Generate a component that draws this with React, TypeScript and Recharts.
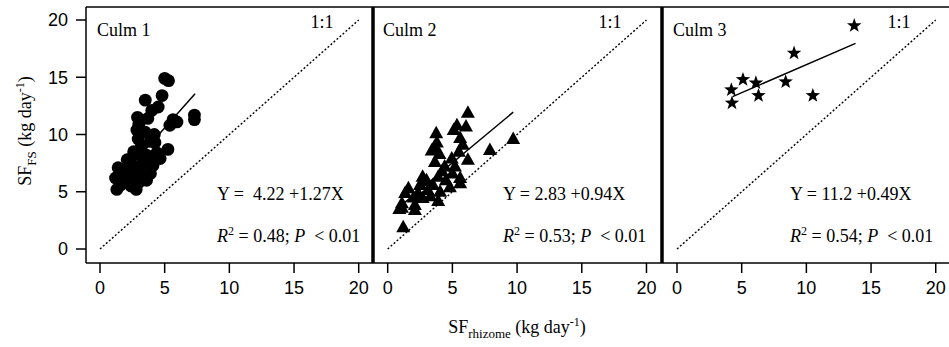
import React from 'react';
import { ScatterChart, Scatter, XAxis, YAxis, ReferenceLine } from 'recharts';

type P = { x: number; y: number };

const culm1Points: P[] = [
  { x: 5.0, y: 14.9 }, { x: 5.3, y: 14.7 }, { x: 4.8, y: 13.4 }, { x: 3.5, y: 13.0 },
  { x: 4.5, y: 12.4 }, { x: 4.0, y: 12.1 }, { x: 3.7, y: 11.4 }, { x: 2.9, y: 11.5 },
  { x: 7.3, y: 11.7 }, { x: 7.3, y: 11.3 }, { x: 5.65, y: 11.3 }, { x: 5.95, y: 11.1 },
  { x: 5.4, y: 10.8 }, { x: 2.85, y: 10.4 }, { x: 3.5, y: 10.2 }, { x: 2.95, y: 9.6 },
  { x: 4.25, y: 9.3 }, { x: 5.25, y: 8.7 }, { x: 4.65, y: 7.9 }, { x: 3.85, y: 8.0 },
  { x: 3.1, y: 8.2 }, { x: 2.3, y: 7.8 }, { x: 1.4, y: 7.1 }, { x: 2.1, y: 7.8 },
  { x: 3.6, y: 8.2 }, { x: 3.9, y: 6.6 }, { x: 2.8, y: 5.2 }, { x: 1.3, y: 5.2 },
  { x: 2.05, y: 5.8 }, { x: 3.1, y: 6.6 }, { x: 2.3, y: 6.6 }, { x: 1.5, y: 6.5 },
  { x: 1.8, y: 6.9 }, { x: 2.5, y: 7.3 }, { x: 2.7, y: 6.2 }, { x: 3.3, y: 7.4 },
  { x: 1.9, y: 6.0 }, { x: 2.4, y: 5.5 }, { x: 3.0, y: 5.8 }, { x: 1.6, y: 5.6 },
  { x: 2.2, y: 7.1 }, { x: 2.9, y: 7.0 }, { x: 3.5, y: 7.6 }, { x: 4.1, y: 7.3 },
  { x: 2.6, y: 8.5 }, { x: 3.2, y: 9.0 }, { x: 1.2, y: 6.2 }, { x: 2.0, y: 6.4 },
  { x: 3.6, y: 6.0 }, { x: 4.4, y: 8.4 }, { x: 3.0, y: 10.9 }, { x: 4.2, y: 10.0 },
  { x: 3.9, y: 9.4 },
];

const culm2Points: P[] = [
  { x: 6.2, y: 11.9 }, { x: 5.35, y: 10.8 }, { x: 6.05, y: 10.7 }, { x: 3.75, y: 10.1 },
  { x: 5.1, y: 10.4 }, { x: 5.6, y: 9.7 }, { x: 3.8, y: 9.3 }, { x: 5.8, y: 9.1 },
  { x: 3.4, y: 8.6 }, { x: 9.7, y: 9.6 }, { x: 7.9, y: 8.65 }, { x: 6.2, y: 7.8 },
  { x: 4.95, y: 7.9 }, { x: 3.65, y: 7.6 }, { x: 4.4, y: 7.2 }, { x: 5.2, y: 7.2 },
  { x: 2.7, y: 6.3 }, { x: 3.9, y: 6.3 }, { x: 5.6, y: 6.2 }, { x: 1.6, y: 5.3 },
  { x: 2.35, y: 4.9 }, { x: 3.1, y: 5.15 }, { x: 4.05, y: 5.0 }, { x: 4.8, y: 5.4 },
  { x: 5.6, y: 5.75 }, { x: 1.1, y: 4.0 }, { x: 2.1, y: 3.85 }, { x: 1.2, y: 1.9 },
  { x: 1.35, y: 4.9 }, { x: 1.1, y: 3.6 }, { x: 2.1, y: 3.4 }, { x: 2.7, y: 4.45 },
  { x: 3.5, y: 5.6 }, { x: 4.2, y: 6.8 }, { x: 3.0, y: 6.0 }, { x: 2.0, y: 4.5 },
  { x: 4.5, y: 6.0 }, { x: 5.0, y: 6.6 }, { x: 3.3, y: 4.6 }, { x: 2.5, y: 5.6 },
  { x: 4.0, y: 8.3 }, { x: 3.6, y: 8.9 }, { x: 5.5, y: 8.5 }, { x: 0.9, y: 3.5 },
  { x: 3.9, y: 4.2 },
];

const culm3Points: P[] = [
  { x: 4.2, y: 13.9 }, { x: 5.1, y: 14.8 }, { x: 6.1, y: 14.5 }, { x: 4.25, y: 12.75 },
  { x: 6.3, y: 13.4 }, { x: 8.4, y: 14.6 }, { x: 9.05, y: 17.1 }, { x: 10.5, y: 13.4 },
  { x: 13.7, y: 19.5 },
];

// regression: Y = a + b X, drawn between xFrom and xTo
const fitIntercepts = [4.22, 2.83, 11.2];
const fitSlopes = [1.27, 0.94, 0.49];
const fitFrom = [1.3, 1.0, 4.3];
const fitTo = [7.35, 9.7, 13.8];

const panelTitles = ['Culm 1', 'Culm 2', 'Culm 3'];
const equationTexts = ['Y =  4.22 +1.27X', 'Y = 2.83 +0.94X', 'Y = 11.2 +0.49X'];
const r2Values = ['0.48', '0.53', '0.54'];
const pTexts = ['< 0.01', '< 0.01', '< 0.01'];
const axisTicks = [0, 5, 10, 15, 20];

const SANS = '"Liberation Sans", Arial, sans-serif';
const SERIF = '"Liberation Serif", "Times New Roman", serif';

const Circle = (p: any) => <circle cx={p.cx} cy={p.cy} r={6.4} fill="#000" />;
const Tri = (p: any) => {
  const { cx, cy } = p;
  return <path d={`M${cx},${cy - 7.5} L${cx + 7},${cy + 5} L${cx - 7},${cy + 5} Z`} fill="#000" />;
};
const Star = (p: any) => {
  const { cx, cy } = p;
  const R = 7.6, r = 3.1;
  let d = '';
  for (let i = 0; i < 10; i++) {
    const rad = i % 2 === 0 ? R : r;
    const a = -Math.PI / 2 + (i * Math.PI) / 5;
    d += (i === 0 ? 'M' : 'L') + (cx + rad * Math.cos(a)).toFixed(2) + ',' + (cy + rad * Math.sin(a)).toFixed(2);
  }
  return <path d={d + 'Z'} fill="#000" />;
};

const Y_DOMAIN: [number, number] = [-1.223, 21.135];

type PanelProps = {
  left: number;
  width: number;
  ml: number;
  mr: number;
  xDomain: [number, number];
  data: P[];
  shape: any;
  idx: number;
  showY: boolean;
  leftThick: boolean;
  rightThick: boolean;
};

function Panel({ left, width, ml, mr, xDomain, data, shape, idx, showY, leftThick, rightThick }: PanelProps) {
  const a = fitIntercepts[idx];
  const b = fitSlopes[idx];
  const seg = [
    { x: fitFrom[idx], y: a + b * fitFrom[idx] },
    { x: fitTo[idx], y: a + b * fitTo[idx] },
  ];
  return (
    <div style={{ position: 'absolute', left, top: 0 }}>
      <ScatterChart width={width} height={347} margin={{ top: 6, right: mr, left: ml, bottom: 0 }}>
        <XAxis
          xAxisId="b"
          type="number"
          dataKey="x"
          domain={xDomain}
          allowDataOverflow
          ticks={axisTicks}
          interval={0}
          tickSize={10}
          tickMargin={8}
          height={84}
          axisLine={{ stroke: '#000', strokeWidth: 1.5 }}
          tickLine={{ stroke: '#000', strokeWidth: 1.5 }}
          tick={{ fill: '#000', fontSize: 18, fontFamily: SANS }}
        />
        <XAxis
          xAxisId="t"
          orientation="top"
          type="number"
          domain={xDomain}
          allowDataOverflow
          height={1}
          tick={false}
          tickLine={false}
          axisLine={{ stroke: '#000', strokeWidth: 1.5 }}
        />
        <YAxis
          yAxisId="l"
          type="number"
          dataKey="y"
          domain={Y_DOMAIN}
          allowDataOverflow
          ticks={axisTicks}
          interval={0}
          width={showY ? 86 : 1}
          tickSize={10}
          tickMargin={8}
          tick={showY ? { fill: '#000', fontSize: 18, fontFamily: SANS } : false}
          tickLine={showY ? { stroke: '#000', strokeWidth: 1.5 } : false}
          axisLine={{ stroke: '#000', strokeWidth: leftThick ? 3 : 1.5 }}
        />
        <YAxis
          yAxisId="r"
          orientation="right"
          type="number"
          domain={Y_DOMAIN}
          allowDataOverflow
          width={1}
          tick={false}
          tickLine={false}
          axisLine={rightThick ? { stroke: '#000', strokeWidth: 3 } : false}
        />
        <ReferenceLine
          xAxisId="b"
          yAxisId="l"
          segment={[{ x: 0, y: 0 }, { x: 20, y: 20 }]}
          stroke="#000"
          strokeWidth={1.4}
          strokeDasharray="2 2"
          ifOverflow="visible"
        />
        <ReferenceLine xAxisId="b" yAxisId="l" segment={seg} stroke="#000" strokeWidth={1.5} ifOverflow="visible" />
        <Scatter xAxisId="b" yAxisId="l" data={data} shape={shape} isAnimationActive={false} />
      </ScatterChart>
    </div>
  );
}

const titleX = [97, 383, 673];
const oneOneX = [322, 610, 899];
const eqX = [217, 503, 790];

export default function App() {
  return (
    <div style={{ position: 'absolute', left: 0, top: 0, width: 949, height: 347, overflow: 'hidden', background: '#fff' }}>
      <Panel left={0} width={378} ml={0} mr={4} xDomain={[-1.082, 21.105]} data={culm1Points} shape={Circle} idx={0} showY leftThick={false} rightThick />
      <Panel left={368} width={299} ml={4} mr={4} xDomain={[-1.136, 21.2]} data={culm2Points} shape={Tri} idx={1} showY={false} leftThick rightThick />
      <Panel left={657} width={295} ml={4} mr={0} xDomain={[-1.16, 21.18]} data={culm3Points} shape={Star} idx={2} showY={false} leftThick rightThick={false} />
      <svg width={949} height={347} style={{ position: 'absolute', left: 0, top: 0, pointerEvents: 'none' }}>
        <g fontFamily={SERIF} fontSize={18} fill="#000">
          {panelTitles.map((t, i) => (
            <text key={'t' + i} x={titleX[i]} y={36}>{t}</text>
          ))}
          {panelTitles.map((_, i) => (
            <text key={'o' + i} x={oneOneX[i]} y={28} textAnchor="middle">1:1</text>
          ))}
          {equationTexts.map((t, i) => (
            <text key={'e' + i} x={eqX[i]} y={200} style={{ whiteSpace: 'pre' }}>{t}</text>
          ))}
          {r2Values.map((v, i) => (
            <text key={'r' + i} x={eqX[i]} y={242} style={{ whiteSpace: 'pre' }}>
              <tspan fontStyle="italic">R</tspan>
              <tspan dy={-7} fontSize={12}>2</tspan>
              <tspan dy={7}>{` = ${v}; `}</tspan>
              <tspan fontStyle="italic">P</tspan>
              <tspan>{`  ${pTexts[i]}`}</tspan>
            </text>
          ))}
          <text x={517} y={333} textAnchor="middle">
            <tspan>SF</tspan>
            <tspan dy={5} fontSize={13}>rhizome</tspan>
            <tspan dy={-5}> (kg day</tspan>
            <tspan dy={-7} fontSize={12}>-1</tspan>
            <tspan dy={7}>)</tspan>
          </text>
          <text transform="translate(31,131) rotate(-90)" textAnchor="middle">
            <tspan>SF</tspan>
            <tspan dy={5} fontSize={13}>FS</tspan>
            <tspan dy={-5}> (kg day</tspan>
            <tspan dy={-7} fontSize={12}>-1</tspan>
            <tspan dy={7}>)</tspan>
          </text>
        </g>
      </svg>
    </div>
  );
}
